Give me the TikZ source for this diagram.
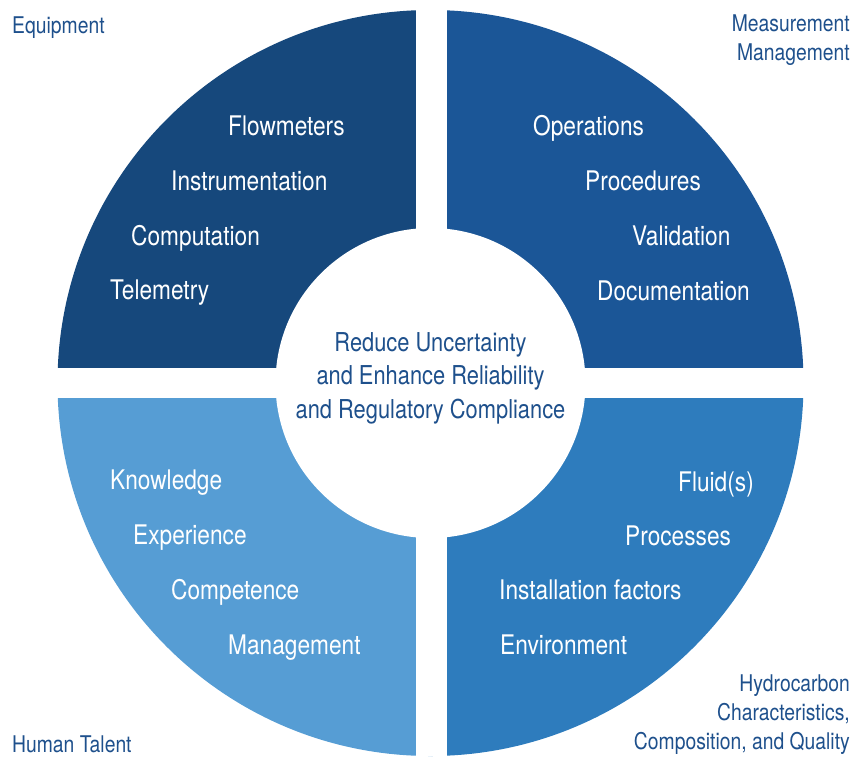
\documentclass[tikz,border=0pt]{standalone}
\usepackage{fontspec}
\setmainfont{TeX Gyre Heros}[FakeStretch=0.84]
\usepackage{tikz}
\usetikzlibrary{positioning}

\definecolor{equipblue}{HTML}{16487C}
\definecolor{mgmtblue}{HTML}{1B5697}
\definecolor{fluidblue}{HTML}{2E7CBD}
\definecolor{talentblue}{HTML}{569DD4}
\definecolor{labelblue}{HTML}{1E508C}

\tikzset{
  item/.style={text=white,font=\fontsize{27}{30}\selectfont,inner sep=0pt,
    text height=19pt,text depth=0pt,anchor=west},
  tag/.style={text=labelblue,font=\fontsize{23}{29}\selectfont,inner sep=0pt,align=left},
  hub/.style={text=labelblue,font=\fontsize{26}{33.5}\selectfont,inner sep=0pt,align=center}
}

\begin{document}
\begin{tikzpicture}[x=1pt,y=-1pt]
    \useasboundingbox (0,0) rectangle (864,756);
    \coordinate (o) at (430.5,383);
    % four quarter discs
    \begin{scope}
        \clip (0,0) rectangle (o);
        \fill[equipblue] (o) circle[radius=373];
    \end{scope}
    \begin{scope}
        \clip (864,0) rectangle (o);
        \fill[mgmtblue] (o) circle[radius=373];
    \end{scope}
    \begin{scope}
        \clip (0,756) rectangle (o);
        \fill[talentblue] (o) circle[radius=373];
    \end{scope}
    \begin{scope}
        \clip (864,756) rectangle (o);
        \fill[fluidblue] (o) circle[radius=373];
    \end{scope}
    % white cross and hub
    \fill[white] (415.5,0) rectangle (446.5,756);
    \fill[white] (0,367.5) rectangle (864,398);
    \fill[white] (o) circle[radius=155];

    \node[hub] (goal) at (430.5,378) {Reduce Uncertainty\\and Enhance Reliability\\and Regulatory Compliance};

    % equipment
    \node[item] (flow) at (228,125.5) {Flowmeters};
    \node[item] (instr) at (171,180.5) {Instrumentation};
    \node[item] (comp) at (131,235.5) {Computation};
    \node[item] (tele) at (110,290) {Telemetry};
    % measurement management
    \node[item] (oper) at (533,125.5) {Operations};
    \node[item] (proc) at (585,180.5) {Procedures};
    \node[item] (valid) at (632,235.5) {Validation};
    \node[item] (docu) at (597,290.5) {Documentation};
    % human talent
    \node[item] (know) at (110,480) {Knowledge};
    \node[item] (exper) at (133,535) {Experience};
    \node[item] (compet) at (171,590) {Competence};
    \node[item] (manage) at (228,645) {Management};
    % hydrocarbon
    \node[item] (fluid) at (678,482) {Fluid(s)};
    \node[item] (procs) at (625,536) {Processes};
    \node[item] (install) at (499,590) {Installation factors};
    \node[item] (envir) at (500,645) {Environment};

    % quadrant titles
    \node[tag,anchor=base west] (equip) at (12,33) {Equipment};
    \node[tag,anchor=north east,align=right] (mm) at (850,15) {Measurement\\Management};
    \node[tag,anchor=base west] (human) at (12,752) {Human Talent};
    \node[tag,anchor=south east,align=right] (hydro) at (850,755) {Hydrocarbon\\Characteristics,\\Composition, and Quality};
\end{tikzpicture}
\end{document}
